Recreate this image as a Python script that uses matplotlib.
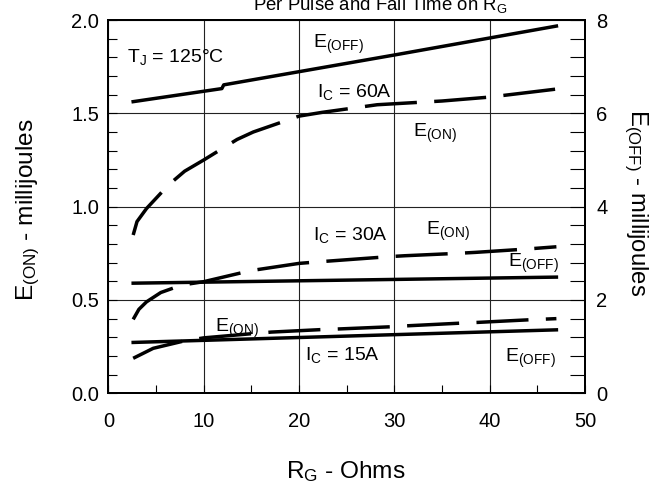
import matplotlib
matplotlib.use("Agg")
import matplotlib.pyplot as plt
from matplotlib.ticker import MultipleLocator
import matplotlib.font_manager as fm

# ---- data ----
rg_on_60 = [2.6, 3.0, 4.0, 6.3, 8.0, 10, 13.5, 15.2, 20, 22.4, 28.2, 35, 40, 47]
e_on_60 = [0.848, 0.92, 0.99, 1.116, 1.19, 1.25, 1.36, 1.40, 1.485, 1.505, 1.546, 1.566, 1.587, 1.63]

rg_on_30 = [2.6, 3.2, 4.0, 5.5, 7.7, 10, 14.9, 20, 22.2, 29.4, 31.1, 36.7, 38.5, 43.9, 47]
e_on_30 = [0.396, 0.45, 0.49, 0.54, 0.58, 0.598, 0.657, 0.696, 0.705, 0.732, 0.737, 0.75, 0.755, 0.773, 0.785]

rg_on_15 = [2.6, 4.7, 7.9, 10, 15.4, 17.1, 22.2, 24.3, 29.9, 31.5, 37, 38.8, 44.2, 47]
e_on_15 = [0.1875, 0.241, 0.28, 0.297, 0.321, 0.328, 0.341, 0.345, 0.357, 0.362, 0.376, 0.380, 0.394, 0.40]

rg_off_60 = [2.6, 11.9, 12.1, 30, 47]
e_off_60 = [6.25, 6.53, 6.61, 7.25, 7.87]
rg_off_30 = [2.6, 47]
e_off_30 = [2.36, 2.49]
rg_off_15 = [2.6, 47]
e_off_15 = [1.09, 1.36]

yticks_left = [0, 0.5, 1.0, 1.5, 2.0]
ytick_labels_left = ['0.0', '0.5', '1.0', '1.5', '2.0']

avail = {f.name for f in fm.fontManager.ttflist}
fam = ['Liberation Sans', 'DejaVu Sans']
fam = [f for f in fam if f in avail] or ['DejaVu Sans']
plt.rcParams['font.family'] = fam
plt.rcParams['font.size'] = 14

W, H = 666, 491
fig = plt.figure(figsize=(W / 100, H / 100), dpi=100)
x0, x1, y0, y1 = 108.4, 585.0, 393.3, 20.0
ax = fig.add_axes([x0 / W, (H - y0) / H, (x1 - x0) / W, (y0 - y1) / H])
ax2 = ax.twinx()

ax.set_xlim(0, 50)
ax.set_ylim(0, 2.0)
ax2.set_ylim(0, 8)

ax.xaxis.set_major_locator(MultipleLocator(10))
ax.xaxis.set_minor_locator(MultipleLocator(5))
ax.yaxis.set_minor_locator(MultipleLocator(0.1))
ax2.yaxis.set_major_locator(MultipleLocator(2))
ax2.yaxis.set_minor_locator(MultipleLocator(0.4))
ax.set_yticks(yticks_left)
ax.set_yticklabels(ytick_labels_left)

ax.grid(True, which='major', color='#222222', lw=0.8)
ax.tick_params(axis='x', which='both', direction='in', top=False, length=5.8, width=0.8, pad=13.5, labelsize=14.5)
ax.tick_params(axis='y', which='both', direction='in', right=False, length=6.3, width=0.8, pad=6.5, labelsize=14.5)
ax2.tick_params(axis='y', which='both', direction='in', length=10.8, width=0.8, pad=8, labelsize=14.5)
for a in (ax, ax2):
    for s in a.spines.values():
        s.set_linewidth(1.4)

lw = 2.5
dash = (15, 5)
ax.plot(rg_on_60, e_on_60, color='black', lw=lw, dashes=dash)
ax.plot(rg_on_30, e_on_30, color='black', lw=lw, dashes=dash)
ax.plot(rg_on_15, e_on_15, color='black', lw=lw, dashes=dash)
ax2.plot(rg_off_60, e_off_60, color='black', lw=lw)
ax2.plot(rg_off_30, e_off_30, color='black', lw=lw)
ax2.plot(rg_off_15, e_off_15, color='black', lw=lw)

def T(x, y, s):
    ax.text(x, y, s, ha='left', va='baseline', fontsize=14)

T(1.97, 1.776, r'$\mathregular{T_J}$ = 125°C')
T(21.5, 1.849, r'$\mathregular{E_{(OFF)}}$')
T(21.9, 1.589, r'$\mathregular{I_C}$ = 60A')
T(31.96, 1.373, r'$\mathregular{E_{(ON)}}$')
T(21.5, 0.821, r'$\mathregular{I_C}$ = 30A')
T(33.3, 0.848, r'$\mathregular{E_{(ON)}}$')
T(41.9, 0.678, r'$\mathregular{E_{(OFF)}}$')
T(11.19, 0.330, r'$\mathregular{E_{(ON)}}$')
T(20.6, 0.178, r'$\mathregular{I_C}$ = 15A')
T(41.6, 0.169, r'$\mathregular{E_{(OFF)}}$')

fig.text(380 / W, (H - 10) / H, r'Per Pulse and Fall Time on $\mathregular{R_G}$', ha='center', va='baseline', fontsize=13.4)
fig.text(346 / W, (H - 478.3) / H, r'$\mathregular{R_G}$ - Ohms', ha='center', va='baseline', fontsize=17.6)
fig.text(28 / W, (H - 210) / H, r'$\mathregular{E_{(ON)}}$ - millijoules', ha='center', va='center', rotation=90, fontsize=17.6)
fig.text(636 / W, (H - 203) / H, r'$\mathregular{E_{(OFF)}}$ - millijoules', ha='center', va='center', rotation=270, fontsize=17.2)

fig.savefig('out.png', dpi=100)
